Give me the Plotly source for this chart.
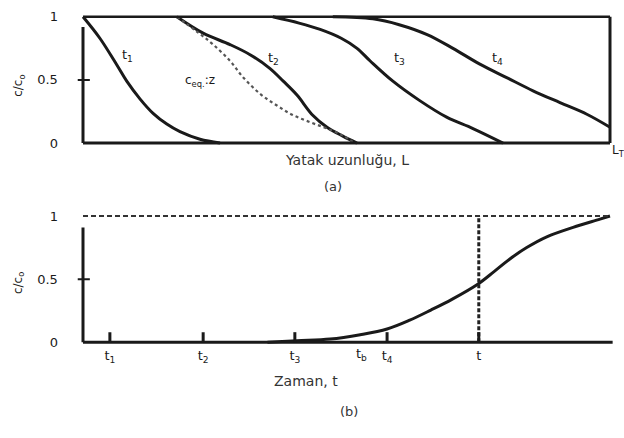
import plotly.graph_objects as go

# ---- data -------------------------------------------------------------
# (a) concentration profiles along the bed, c/c0 vs normalised length L/LT
t1_L = [0.0, 0.032, 0.064, 0.083, 0.108, 0.133, 0.159, 0.184, 0.222, 0.26]
t1_c = [1.0, 0.83, 0.62, 0.49, 0.35, 0.235, 0.15, 0.09, 0.03, 0.0]

t2_L = [0.178, 0.228, 0.279, 0.317, 0.355, 0.38, 0.406, 0.436, 0.463, 0.493, 0.52]
t2_c = [1.0, 0.87, 0.78, 0.70, 0.59, 0.49, 0.38, 0.22, 0.125, 0.055, 0.0]

ceq_L = [0.178, 0.216, 0.247, 0.279, 0.304, 0.336, 0.368, 0.398, 0.431, 0.463, 0.493, 0.515]
ceq_c = [1.0, 0.883, 0.78, 0.65, 0.52, 0.39, 0.297, 0.222, 0.165, 0.115, 0.06, 0.0]

t3_L = [0.36, 0.41, 0.45, 0.49, 0.52, 0.545, 0.588, 0.639, 0.69, 0.74, 0.797]
t3_c = [1.0, 0.95, 0.90, 0.83, 0.75, 0.65, 0.49, 0.336, 0.205, 0.115, 0.0]

t4_L = [0.474, 0.55, 0.60, 0.653, 0.702, 0.753, 0.805, 0.854, 0.905, 0.956, 1.0]
t4_c = [1.0, 0.984, 0.9375, 0.859, 0.75, 0.625, 0.516, 0.414, 0.32, 0.228, 0.125]

# (b) breakthrough curve at the bed outlet, c/c0 vs normalised time
bt_t = [0.35, 0.406, 0.469, 0.526, 0.577, 0.62, 0.66, 0.70, 0.749, 0.78,
        0.81, 0.842, 0.88, 0.93, 0.981, 1.0]
bt_c = [0.0, 0.012, 0.025, 0.06, 0.105, 0.175, 0.255, 0.34, 0.46, 0.56,
        0.66, 0.75, 0.835, 0.91, 0.975, 1.0]

# time markers on the lower axis
time_ticks = [0.051, 0.228, 0.402, 0.577, 0.751]
time_labels = ["t<sub>1</sub>", "t<sub>2</sub>", "t<sub>3</sub>", "t<sub>4</sub>", "t"]
tb_time = 0.529
t_sel = 0.751

y_ticks = [0, 0.5, 1]
y_labels = ["0", "0.5", "1"]

# ---- layout helpers -----------------------------------------------------
W, H = 624, 438
FONT = "DejaVu Sans"
INK = "#1a1a1a"

XR = [-0.04, 1.02]
YR = [-0.03, 1.04]
PX_X = 527.0     # pixels per unit of x
PX_Y = 128.0     # pixels per unit of y
X0 = 83.0        # pixel of x = 0


def xdom():
    return [(X0 + XR[0] * PX_X) / W, (X0 + XR[1] * PX_X) / W]


def ydom(y0_px):
    bottom = y0_px - YR[0] * PX_Y
    top = y0_px - YR[1] * PX_Y
    return [1 - bottom / H, 1 - top / H]


fig = go.Figure()

curve = dict(color=INK, width=3, shape="spline", smoothing=1.0)
for xs, ys in [(t1_L, t1_c), (t2_L, t2_c), (t3_L, t3_c), (t4_L, t4_c)]:
    fig.add_trace(go.Scatter(x=xs, y=ys, mode="lines", line=curve,
                             xaxis="x", yaxis="y", showlegend=False, hoverinfo="skip"))
fig.add_trace(go.Scatter(x=ceq_L, y=ceq_c, mode="lines",
                         line=dict(color="#555555", width=2.2, dash="dot", shape="spline", smoothing=1.0),
                         xaxis="x", yaxis="y", showlegend=False, hoverinfo="skip"))
fig.add_trace(go.Scatter(x=bt_t, y=bt_c, mode="lines", line=curve,
                         xaxis="x2", yaxis="y2", showlegend=False, hoverinfo="skip"))

shapes = []


def seg(xref, yref, x0, y0, x1, y1, width=3, dash="solid", color=INK):
    shapes.append(dict(type="line", xref=xref, yref=yref, x0=x0, y0=y0, x1=x1, y1=y1,
                       line=dict(color=color, width=width, dash=dash), layer="above"))


# frame of the upper panel
seg("x", "y", 0, 1, 1, 1, width=2.5)
seg("x", "y", 1, 0, 1, 1, width=3)
seg("x", "y", 0, 0, 1, 0, width=3)
seg("x", "y", 0, 0, 0, 0.92, width=3)
seg("x", "y", -0.01, 0.5, 0.013, 0.5, width=2)

# axes of the lower panel
seg("x2", "y2", 0, 0, 1.005, 0, width=3)
seg("x2", "y2", 0, 0, 0, 0.91, width=3)
seg("x2", "y2", -0.01, 0.5, 0.013, 0.5, width=2)
seg("x2", "y2", 0, 1, 1, 1, width=2, dash="5px,3px", color="#333333")
seg("x2", "y2", t_sel, 0, t_sel, 1, width=3, dash="4px,2px", color="#222222")
for tv in time_ticks:
    seg("x2", "y2", tv, 0, tv, 0.08, width=3)

ann = []


def label(text, x, y, xref, yref, size=13, color=INK, **kw):
    opts = dict(xanchor="center", yanchor="middle")
    opts.update(kw)
    ann.append(dict(text=text, x=x, y=y, xref=xref, yref=yref, showarrow=False,
                    font=dict(family=FONT, size=size, color=color), **opts))


label("t<sub>1</sub>", 0.085, 0.69, "x", "y")
label("t<sub>2</sub>", 0.361, 0.67, "x", "y")
label("t<sub>3</sub>", 0.60, 0.67, "x", "y")
label("t<sub>4</sub>", 0.787, 0.67, "x", "y")
label("c<sub>eq.</sub>:z", 0.222, 0.49, "x", "y", size=12)
label("t<sub>b</sub>", tb_time, -0.01, "x2", "y2", yanchor="top")

label("Yatak uzunluğu, L", 347 / W, 1 - 160 / H, "paper", "paper", size=14, color="#333333")
label("(a)", 333 / W, 1 - 187 / H, "paper", "paper", size=13, color="#333333")
label("L<sub>T</sub>", 618 / W, 1 - 151 / H, "paper", "paper", size=12)
label("Zaman, t", 306 / W, 1 - 384 / H, "paper", "paper", size=14, color="#333333")
label("(b)", 349 / W, 1 - 415 / H, "paper", "paper", size=13, color="#333333")
label("c/c<sub>o</sub>", 19 / W, 1 - 85 / H, "paper", "paper", size=12, textangle=-90)
label("c/c<sub>o</sub>", 19 / W, 1 - 285 / H, "paper", "paper", size=12, textangle=-90)

common_x = dict(range=XR, domain=xdom(), showgrid=False, zeroline=False, showline=False,
                fixedrange=True)
common_y = dict(range=YR, showgrid=False, zeroline=False, showline=False,
                tickmode="array", tickvals=y_ticks, ticktext=y_labels, ticks="",
                ticklabelstandoff=3, tickfont=dict(family=FONT, size=13, color=INK),
                fixedrange=True)

fig.update_layout(
    width=W, height=H,
    margin=dict(l=0, r=0, t=0, b=0),
    paper_bgcolor="white", plot_bgcolor="white",
    xaxis=dict(**common_x, anchor="y", showticklabels=False),
    yaxis=dict(**common_y, domain=ydom(143), anchor="x"),
    xaxis2=dict(**common_x, anchor="y2", tickmode="array", tickvals=time_ticks,
                ticktext=time_labels, ticks="", ticklabelstandoff=0,
                tickfont=dict(family=FONT, size=13, color=INK)),
    yaxis2=dict(**common_y, domain=ydom(345), anchor="x2"),
    shapes=shapes,
    annotations=ann,
)

fig.write_html("out.html")
